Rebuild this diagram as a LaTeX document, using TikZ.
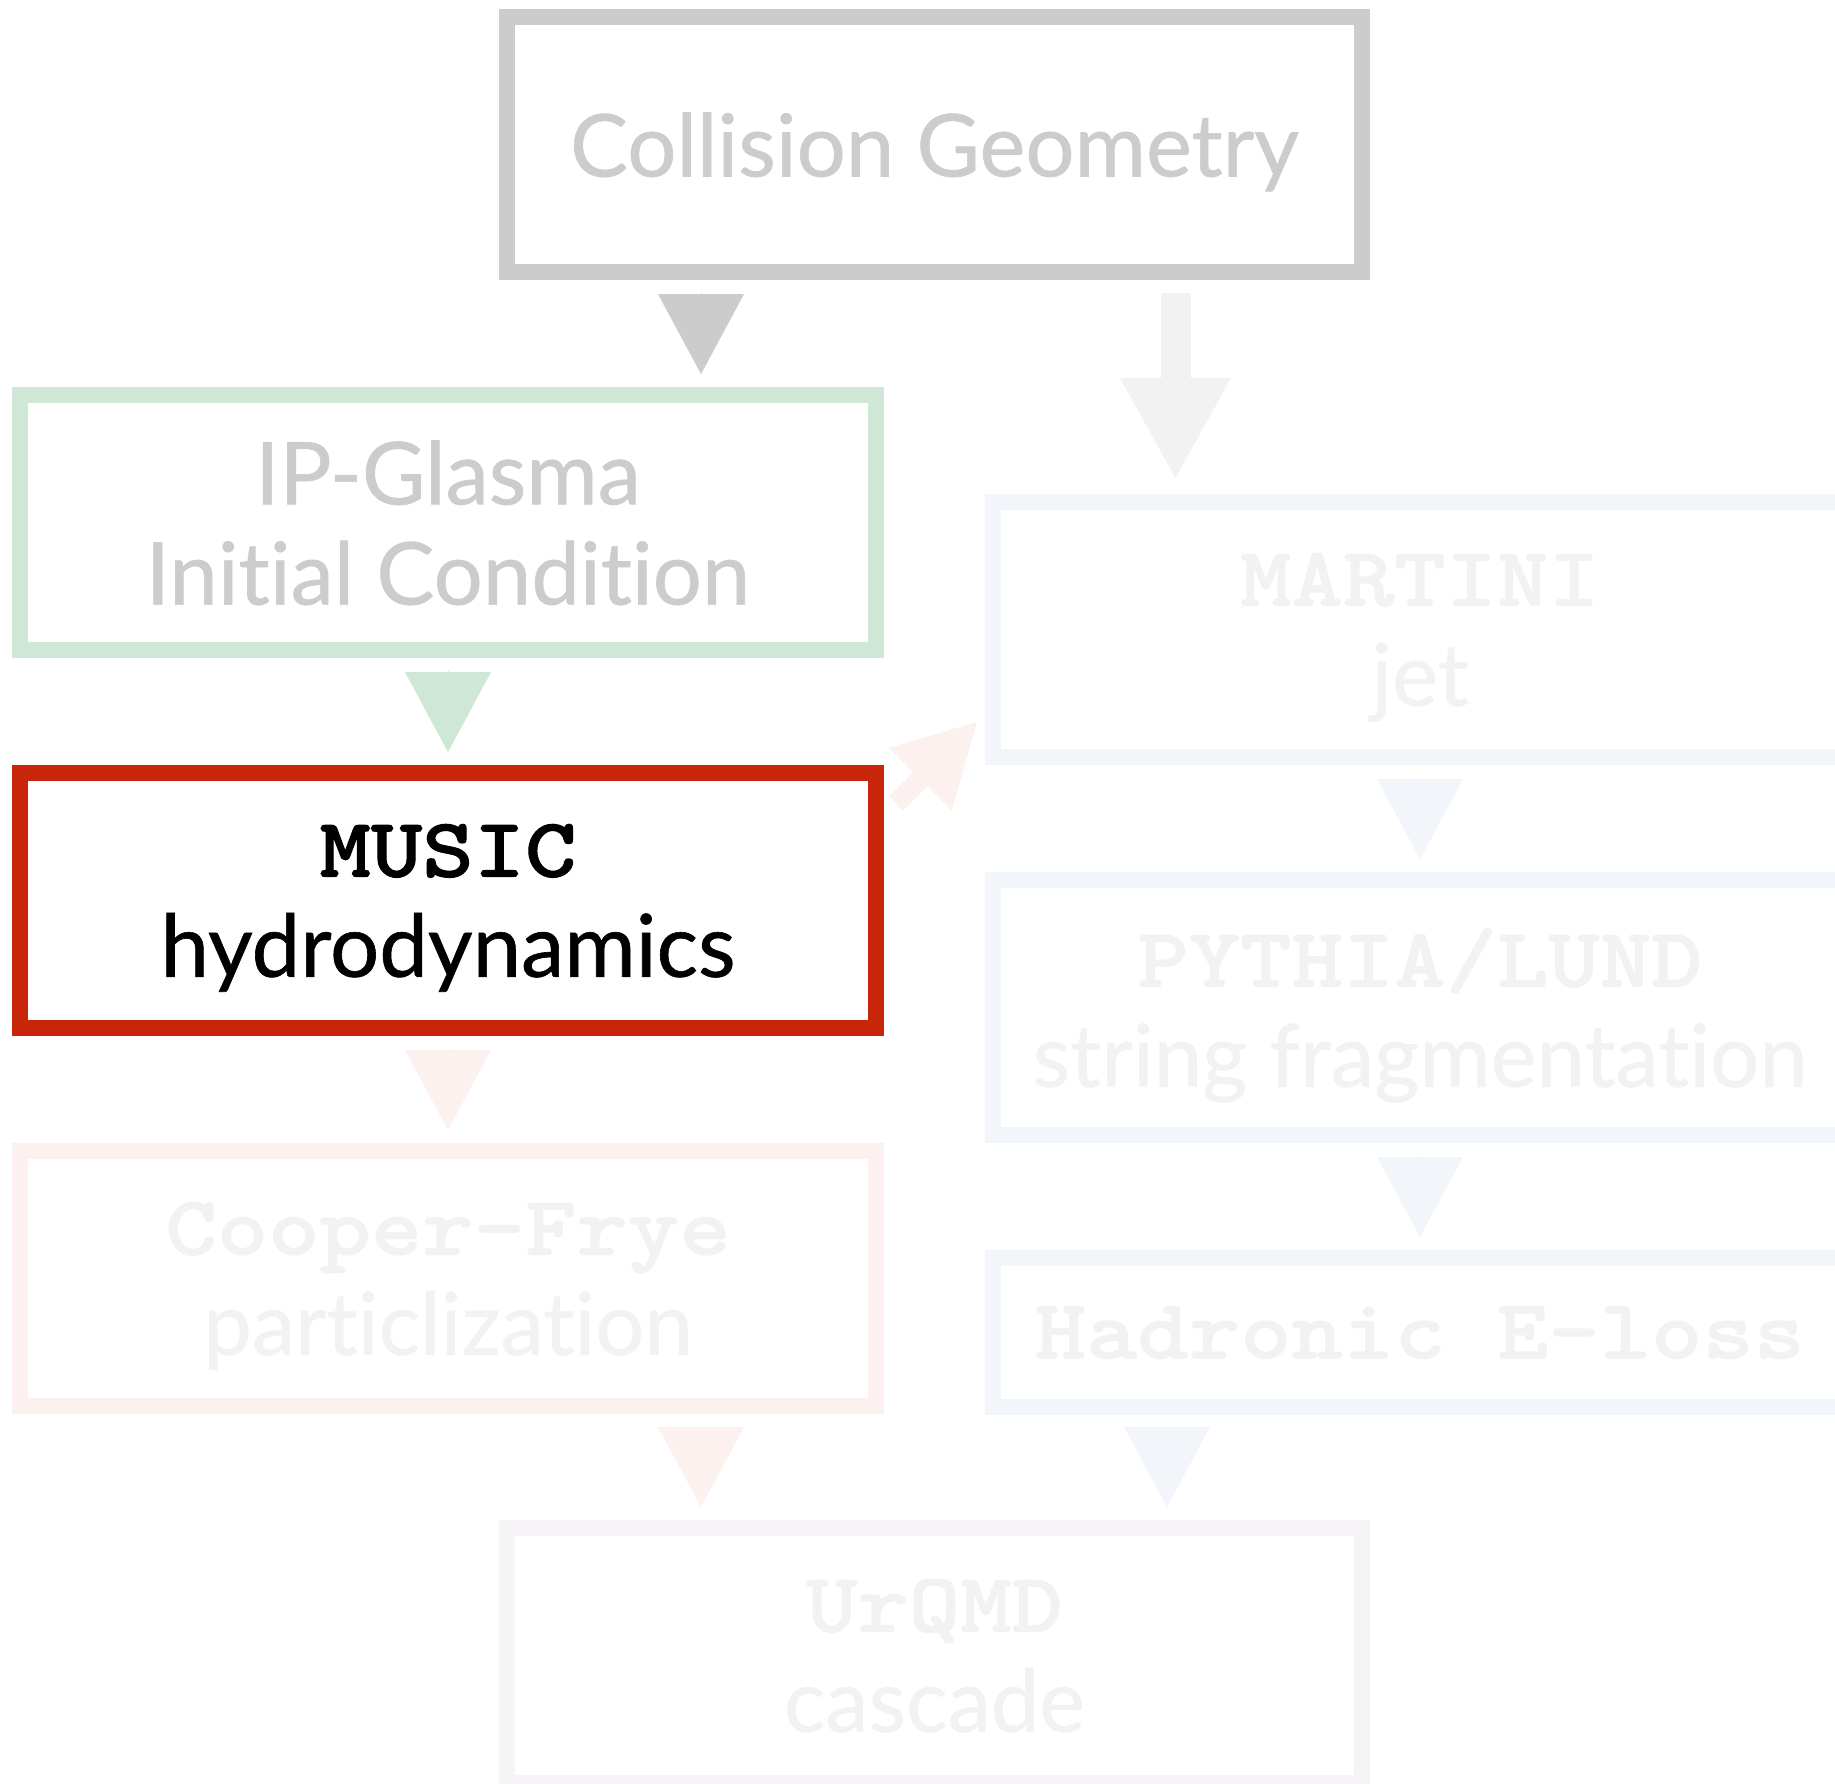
\documentclass[tikz,border=0pt]{standalone}
\usepackage{fontspec}
\setmainfont{Lato}[Ligatures=NoCommon]
\newfontfamily\codefont{lmmonolt10-bold.otf}[FakeStretch=1.16,FakeBold=1.2]
\usetikzlibrary{arrows.meta,positioning}

\definecolor{geogray}{HTML}{CCCCCC}
\definecolor{glasmagreen}{HTML}{CEE7D6}
\definecolor{musicred}{HTML}{C8250A}
\definecolor{jetblue}{HTML}{F2F6FA}
\definecolor{frzpink}{HTML}{FCF1EF}
\definecolor{cascgray}{HTML}{F6F4F7}
\definecolor{fadetext}{HTML}{F2F2F2}

\newcommand{\code}[1]{{\fontsize{24}{28.5}\selectfont\codefont #1}}

\begin{document}
\begin{tikzpicture}[
    node distance=1.07cm,
    stage/.style={draw, line width=0.16cm, minimum width=8.55cm, minimum height=2.55cm, align=center, text depth=0pt,
      font=\fontsize{24.7}{28.5}\selectfont\addfontfeature{FakeBold=0.7}},
    flow/.style={line width=0.1pt, -{Triangle[width=0.86cm,length=0.80cm]}, shorten <=0.13cm, shorten >=0.13cm}
  ]
    \useasboundingbox (0,0) rectangle (18.35,-17.84);

    \node[stage, draw=geogray, text=geogray] (geom) at (9.345,-1.445) {Collision Geometry};
    \node[stage, draw=glasmagreen, text=geogray, below=of geom, xshift=-4.865cm] (glasma) {IP-Glasma\\Initial Condition};
    \node[stage, draw=musicred, text=black, below=of glasma] (music) {\code{MUSIC}\\hydrodynamics};
    \node[stage, draw=frzpink, text=fadetext, below=of music] (cooper) {\code{Cooper-Frye}\\particlization};
    \node[stage, draw=cascgray, text=fadetext, below=1.06cm of cooper, xshift=4.865cm] (urqmd) {\code{UrQMD}\\cascade};

    \node[stage, draw=jetblue, text=fadetext] (martini) at (14.20,-6.295) {\code{MARTINI}\\jet};
    \node[stage, draw=jetblue, text=fadetext, below=of martini] (pythia) {\code{PYTHIA/LUND}\\string fragmentation};
    \node[stage, draw=jetblue, text=fadetext, minimum height=1.49cm, below=of pythia] (eloss) {\code{Hadronic E-loss}};

    \draw[flow, geogray] ([xshift=-2.335cm]geom.south) -- ([xshift=-2.335cm]geom.south |- glasma.north);
    \draw[flow, glasmagreen] (glasma) -- (music);
    \draw[flow, frzpink] (music) -- (cooper);
    \draw[flow, frzpink] ([xshift=2.53cm]cooper.south) -- ([xshift=2.53cm]cooper.south |- urqmd.north);
    \draw[flow, jetblue] (martini) -- (pythia);
    \draw[flow, jetblue] (pythia) -- (eloss);
    \draw[flow, jetblue] ([xshift=-2.53cm]eloss.south) -- ([xshift=-2.53cm]eloss.south |- urqmd.north);

    \draw[fadetext, line width=0.30cm, -{Triangle[width=1.03cm,length=1.02cm]}, shorten <=0.13cm, shorten >=0.14cm] ([xshift=2.41cm]geom.south) -- ([xshift=2.41cm]geom.south |- martini.north);
    \draw[frzpink, line width=0.20cm, -{Triangle[width=0.83cm,length=0.82cm]}] ([shift={(0.125,-0.385)}]music.north east) -- ([shift={(-0.065,0.44)}]martini.south west);
  \end{tikzpicture}
\end{document}
